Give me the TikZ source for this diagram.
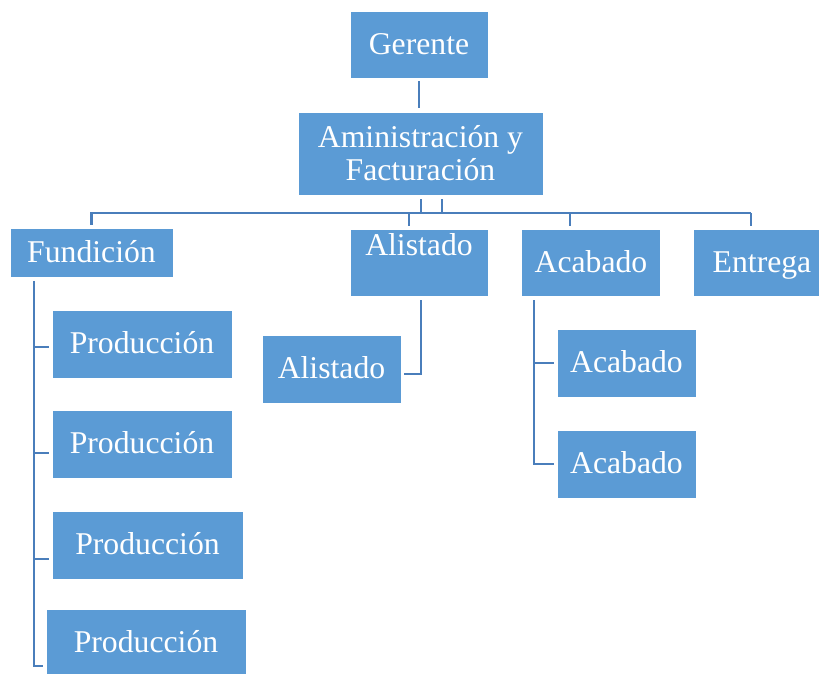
\documentclass[tikz,border=0pt]{standalone}
\usepackage{fontspec}
\setmainfont{Liberation Serif}
\definecolor{boxblue}{HTML}{5B9BD5}
\definecolor{lineblue}{HTML}{4A7EBB}
\begin{document}
\begin{tikzpicture}[x=1pt,y=-1pt,
  box/.style={fill=boxblue, draw=white, line width=0.6pt, inner sep=0pt, text=white,
    font=\fontsize{31.7}{33}\selectfont},
  txt/.style={text height=25.4pt, text depth=6.3pt},
  conn/.style={draw=lineblue, line width=2.8pt}]
\useasboundingbox (0,0) rectangle (819,673);
% boxes
\node[box, txt, minimum width=138, minimum height=67] (ger) at (419,44.5) {Gerente};
\node[box, align=center, minimum width=245, minimum height=83] (adm) at (420.5,153.5) {Aministración y\\Facturación};
\node[box, txt, minimum width=163, minimum height=49] (fun) at (91.5,253) {Fundición};
\node[box, text height=26.5pt, text depth=40.5pt, minimum width=138] (ali) at (419,262.5) {Alistado};
\node[box, txt, minimum width=139, minimum height=67] (aca) at (591,262.5) {Acabado};
\node[box, txt, minimum width=138, minimum height=67] (ent) at (762,262.5) {Entrega};
\node[box, txt, minimum width=180, minimum height=68] (p1) at (142,344) {Producción};
\node[box, txt, minimum width=180, minimum height=68] (p2) at (142,444) {Producción};
\node[box, txt, minimum width=191, minimum height=68] (p3) at (147.5,545) {Producción};
\node[box, txt, minimum width=200, minimum height=68] (p4) at (146,643) {Producción};
\node[box, txt, minimum width=139, minimum height=68] (alc) at (331.5,369) {Alistado};
\node[box, txt, minimum width=139, minimum height=68] (ac1) at (626.5,363) {Acabado};
\node[box, txt, minimum width=139, minimum height=68] (ac2) at (626.5,464) {Acabado};
% junction points
\coordinate (j1) at (421,213);
\coordinate (j2) at (442,213);
\coordinate (d1) at (409,213);
\coordinate (d2) at (570,213);
\coordinate (d3) at (751,213);
\coordinate (t1) at (34,347);
\coordinate (t2) at (34,453);
\coordinate (t3) at (34,559);
\coordinate (t4) at (34,666);
\coordinate (a1) at (421,374);
\coordinate (c1) at (534,363);
\coordinate (c2) at (534,464);
% connectors
\draw[conn, shorten <=3pt, shorten >=4pt] (ger.south) -- (ger.south |- adm.north);
\draw[conn, shorten <=4pt] (j1 |- adm.south) -- (j1);
\draw[conn, shorten <=4pt] (j2 |- adm.south) -- (j2);
\draw[conn, shorten >=3pt] (j2) -- (fun.north |- j2) -- (fun.north);
\draw[conn] (d1) -- (d3);
\draw[conn, shorten >=3pt] (d1) -- (d1 |- ali.north);
\draw[conn, shorten >=3pt] (d2) -- (d2 |- aca.north);
\draw[conn, shorten >=3pt] (d3) -- (d3 |- ent.north);
% Fundicion children
\draw[conn, shorten <=3pt, shorten >=3pt] (fun.south -| t4) -- (t4) -- (t4 -| p4.west);
\draw[conn, shorten >=3pt] (t1) -- (t1 -| p1.west);
\draw[conn, shorten >=3pt] (t2) -- (t2 -| p2.west);
\draw[conn, shorten >=3pt] (t3) -- (t3 -| p3.west);
% Alistado child
\draw[conn, shorten <=4pt, shorten >=3pt] (ali.south -| a1) -- (a1) -- (a1 -| alc.east);
% Acabado children
\draw[conn, shorten <=4pt, shorten >=3pt] (aca.south -| c2) -- (c2) -- (c2 -| ac2.west);
\draw[conn, shorten >=3pt] (c1) -- (c1 -| ac1.west);
\end{tikzpicture}
\end{document}
